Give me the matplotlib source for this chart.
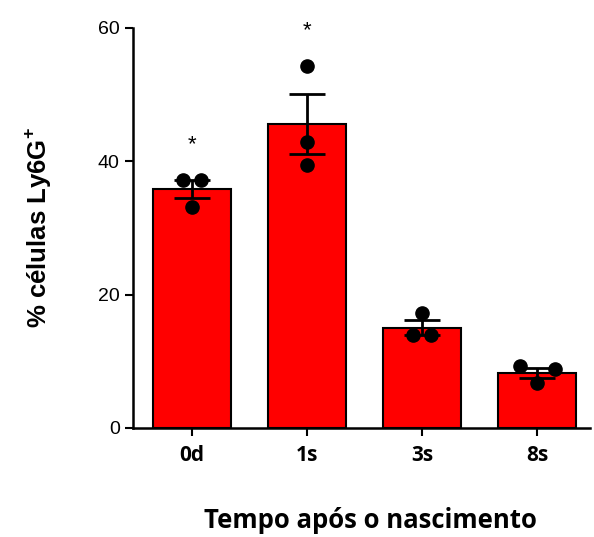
import numpy as np
import matplotlib
matplotlib.use("Agg")
import matplotlib.pyplot as plt

plt.rcParams['font.family'] = ['Liberation Sans', 'DejaVu Sans']

grupos = ['0d', '1s', '3s', '8s']
pontos = [
    [37.2, 37.2, 33.1],
    [54.3, 42.9, 39.5],
    [17.2, 14.0, 14.0],
    [9.3, 8.8, 6.7],
]
desloc = [
    [-0.08, 0.08, 0.0],
    [0.0, 0.0, 0.0],
    [0.0, -0.08, 0.08],
    [-0.15, 0.16, 0.0],
]
asterisco = ['*', '*', '', '']

medias = [np.mean(p) for p in pontos]
sem = [np.std(p, ddof=1) / np.sqrt(len(p)) for p in pontos]
x = np.arange(len(grupos))

fig = plt.figure(figsize=(5.94, 5.37), dpi=100)
ax = fig.add_axes([133/594, 1 - 428/537, 457/594, 400/537])

ax.bar(x, medias, width=0.68, color='#ff0000', edgecolor='black', linewidth=1.5, zorder=1)
ax.errorbar(x, medias, yerr=sem, fmt='none', ecolor='black', elinewidth=2,
            capsize=13, capthick=2, zorder=2)
for i in range(len(grupos)):
    ax.plot(x[i] + np.array(desloc[i]), pontos[i], 'o', color='black',
            markersize=9.5, zorder=3, clip_on=False)
    if asterisco[i]:
        topo = max(max(pontos[i]), medias[i] + sem[i])
        ax.text(x[i], topo + 5.3, asterisco[i], ha='center', va='center',
                fontsize=16, clip_on=False)

ax.set_xlim(-0.513, 3.46)
ax.set_ylim(0, 60)
ax.set_yticks([0, 20, 40, 60])
ax.set_xticks(x)
ax.set_xticklabels(grupos, fontweight='bold', fontsize=15, family='Open Sans')
ax.tick_params(axis='y', labelsize=14, width=1.5, length=6)
ax.tick_params(axis='x', width=1.5, length=6, pad=6)
ax.spines['top'].set_visible(False)
ax.spines['right'].set_visible(False)
ax.spines['left'].set_linewidth(1.8)
ax.spines['bottom'].set_linewidth(1.8)

ax.set_ylabel('% células Ly6G$^{\\mathregular{+}}$', fontsize=18.5, fontweight='bold', labelpad=32)
fig.text(370/594, 1 - 520/537, 'Tempo após o nascimento', fontsize=18.5, fontweight='bold',
         family='Open Sans', ha='center', va='center')

fig.savefig('out.png', dpi=100)
